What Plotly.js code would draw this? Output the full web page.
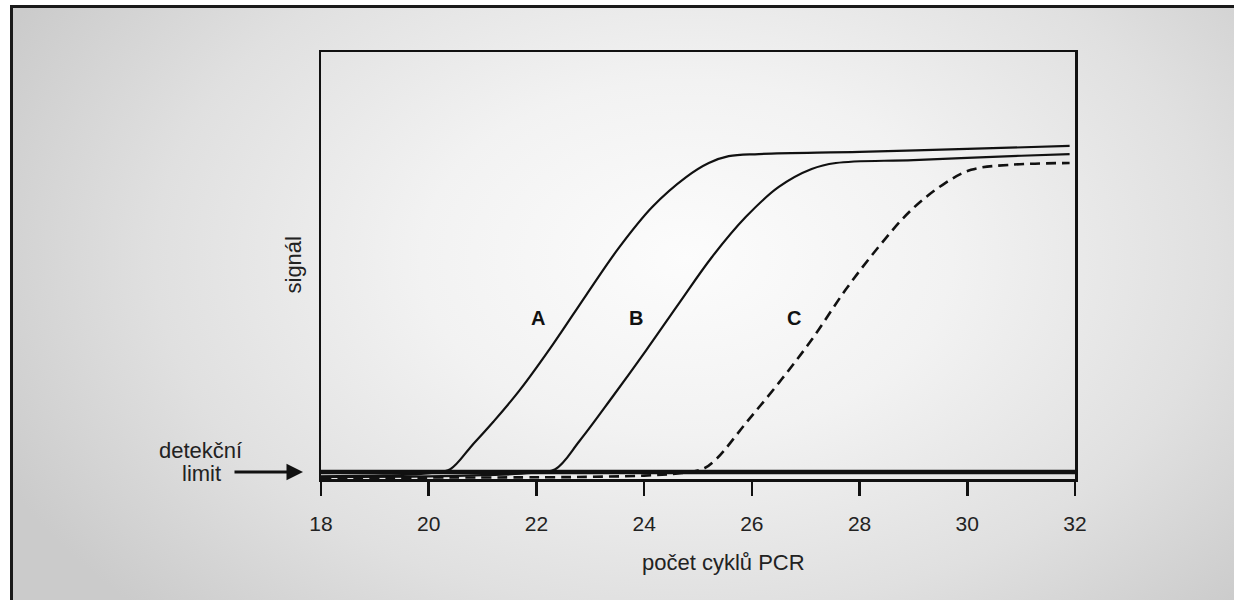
<!DOCTYPE html>
<html>
<head>
<meta charset="utf-8">
<script src="https://cdn.plot.ly/plotly-3.0.1.min.js"></script>
<style>
  html, body { margin: 0; padding: 0; background: #ffffff; width: 1234px; height: 600px; overflow: hidden; }
  #frame {
    position: absolute; left: 10px; top: 5px; width: 1224px; height: 595px;
    border-left: 3px solid #1a1a1a; border-top: 3px solid #1a1a1a;
    background: radial-gradient(ellipse 62% 85% at 55% 42%, #fcfcfc 0%, #f2f2f2 35%, #e0e0e0 70%, #cbcbcb 100%);
  }
  #chart { position: absolute; left: 0; top: 0; width: 1234px; height: 600px; }
</style>
</head>
<body>
<div id="frame"></div>
<div id="chart"></div>
<script>
// cycle numbers and signal values
const cyclesA = [18, 19, 19.6, 20.1, 20.4, 20.8, 21.2, 21.69, 22.30, 22.93, 23.54, 24.15, 24.78, 25.20, 25.57, 26.13, 28, 30, 31.9];
const signalA = [0.6, 0.8, 1.0, 1.5, 2.3, 7.8, 13.4, 20.8, 31.4, 43.2, 54.3, 63.7, 70.7, 74.0, 75.6, 76.1, 76.6, 77.3, 78.0];

const cyclesB = [18, 20, 21, 21.9, 22.35, 22.80, 23.41, 24.04, 24.65, 25.26, 25.89, 26.50, 27.11, 27.56, 29, 31, 31.9];
const signalB = [0.5, 0.6, 0.9, 1.4, 2.3, 8.9, 19.2, 30.2, 41.2, 52.0, 61.4, 68.4, 72.6, 74.0, 74.7, 75.7, 76.1];

const cyclesC = [18, 22, 23, 24, 24.7, 25.1, 25.35, 25.89, 26.50, 27.11, 27.74, 28.35, 28.96, 29.59, 30.07, 30.81, 31.9];
const signalC = [0.3, 0.4, 0.5, 0.8, 1.4, 2.4, 4.8, 13.1, 22.5, 32.6, 44.3, 54.3, 63.0, 69.3, 72.4, 73.6, 74.0];

const limitCycles = [18, 32];
const limitSignal = [1.64, 1.64];

const curveLabels = ['A', 'B', 'C'];
const labelCycles = [22.02, 23.85, 26.78];
const labelSignal = [37.7, 37.7, 37.7];

const xTicks = [18, 20, 22, 24, 26, 28, 30, 32];
const xTitle = 'počet cyklů PCR';
const yTitle = 'signál';
const limitLines = ['detekční', 'limit'];

const FONT = 'Liberation Sans, Arial, sans-serif';
const INK = '#111111';

const traces = [
  { x: limitCycles, y: limitSignal, mode: 'lines', line: { color: INK, width: 4.5 }, hoverinfo: 'skip' },
  { x: cyclesA, y: signalA, mode: 'lines', line: { color: INK, width: 2.2, shape: 'spline', smoothing: 1 } },
  { x: cyclesB, y: signalB, mode: 'lines', line: { color: INK, width: 2.2, shape: 'spline', smoothing: 1 } },
  { x: cyclesC, y: signalC, mode: 'lines', line: { color: INK, width: 2.6, dash: '10px,6px', shape: 'spline', smoothing: 1 } }
];

const annotations = curveLabels.map((t, i) => ({
  x: labelCycles[i], y: labelSignal[i], xref: 'x', yref: 'y', text: t, showarrow: false,
  font: { family: FONT, size: 20, color: '#111', weight: 'bold' }
}));
annotations.push({
  xref: 'paper', yref: 'paper', x: 0, y: 0.5, xanchor: 'center', yanchor: 'middle',
  xshift: -28, text: yTitle, textangle: -90, showarrow: false,
  font: { family: FONT, size: 22, color: '#222' }
});
annotations.push({
  xref: 'paper', yref: 'paper', x: 0.5, y: 0, xanchor: 'center', yanchor: 'middle',
  xshift: 25, yshift: -83, text: xTitle, showarrow: false,
  font: { family: FONT, size: 22, color: '#222' }
});
annotations.push({
  xref: 'paper', yref: 'y', x: 0, y: limitSignal[0], xanchor: 'center', yanchor: 'middle',
  xshift: -121, yshift: 22, text: limitLines[0], showarrow: false,
  font: { family: FONT, size: 22, color: '#222' }
});
annotations.push({
  xref: 'paper', yref: 'y', x: 0, y: limitSignal[0], xanchor: 'center', yanchor: 'middle',
  xshift: -120, yshift: -1, text: limitLines[1], showarrow: false,
  font: { family: FONT, size: 22, color: '#222' }
});
annotations.push({
  xref: 'paper', yref: 'y', x: 0, y: limitSignal[0], ax: -70, ay: 0, axref: 'pixel', ayref: 'pixel',
  xshift: -18, text: '', showarrow: true, arrowhead: 2, arrowsize: 1.1, arrowwidth: 3, arrowcolor: INK
});

const layout = {
  width: 1234, height: 600,
  margin: { l: 321, r: 159, t: 52, b: 121, pad: 0 },
  paper_bgcolor: 'rgba(0,0,0,0)',
  plot_bgcolor: 'rgba(0,0,0,0)',
  showlegend: false,
  font: { family: FONT, color: '#222' },
  xaxis: {
    range: [18, 32], tickvals: xTicks, ticktext: xTicks.map(String),
    ticks: 'outside', ticklen: 14, tickwidth: 2.5, tickcolor: INK,
    showline: true, linecolor: INK, linewidth: 2.5, mirror: true,
    showgrid: false, zeroline: false,
    tickfont: { family: FONT, size: 21, color: '#222' },
    ticklabelstandoff: 10
  },
  yaxis: {
    range: [0, 100], showticklabels: false, ticks: '',
    showline: true, linecolor: INK, linewidth: 2.5, mirror: true,
    showgrid: false, zeroline: false
  },
  annotations: annotations
};

Plotly.newPlot('chart', traces, layout, { staticPlot: true, displayModeBar: false });
</script>
</body>
</html>
